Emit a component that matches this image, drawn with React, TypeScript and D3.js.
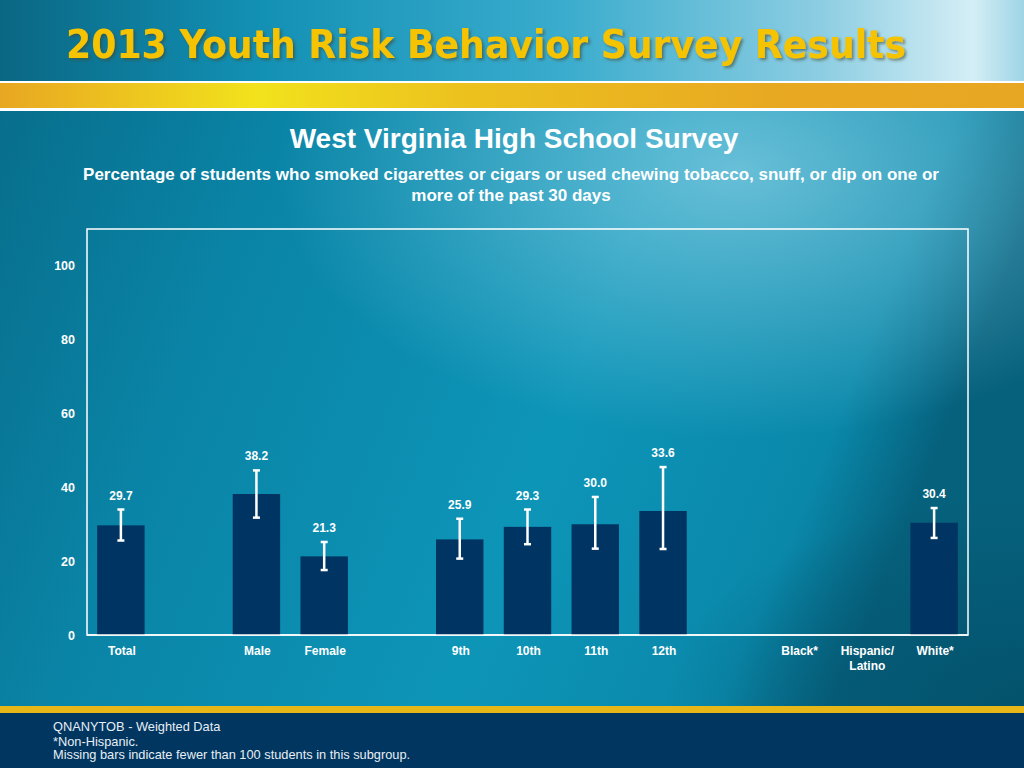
import { useEffect, useRef } from 'react';
import * as d3 from 'd3';

// slots in drawing order; "gap" entries are the empty spaces between groups
const slots = ["Total", "gap1", "Male", "Female", "gap2", "9th", "10th", "11th", "12th", "gap3", "Black*", "Hispanic/Latino", "White*"];
const categories = ["Total", "Male", "Female", "9th", "10th", "11th", "12th", "Black*", "Hispanic/Latino", "White*"];
const categoryLines = [["Total"], ["Male"], ["Female"], ["9th"], ["10th"], ["11th"], ["12th"], ["Black*"], ["Hispanic/", "Latino"], ["White*"]];
const values: (number | null)[] = [29.7, 38.2, 21.3, 25.9, 29.3, 30.0, 33.6, null, null, 30.4];
const lower: (number | null)[] = [25.6, 31.8, 17.6, 20.7, 24.6, 23.4, 23.3, null, null, 26.3];
const upper: (number | null)[] = [34.0, 44.6, 25.2, 31.5, 34.0, 37.4, 45.5, null, null, 34.4];
const yTicks = [0, 20, 40, 60, 80, 100];

const headerTitle = "2013 Youth Risk Behavior Survey Results";
const chartTitle = "West Virginia High School Survey";
const subtitleLines = [
  "Percentage of students who smoked cigarettes or cigars or used chewing tobacco, snuff, or dip on one or",
  "more of the past 30 days",
];
const footnotes = ["QNANYTOB - Weighted Data", "*Non-Hispanic.", "Missing bars indicate fewer than 100 students in this subgroup."];

const W = 1024;
const H = 768;
const font = "'Liberation Sans', Arial, sans-serif";

export default function App() {
  const svgRef = useRef<SVGSVGElement>(null);

  useEffect(() => {
    document.body.style.margin = "0";
    if (!svgRef.current) return;
    const svg = d3.select(svgRef.current);
    svg.selectAll("*").remove();

    const defs = svg.append("defs");

    // header background
    const hg = defs.append("linearGradient").attr("id", "hdr").attr("x1", 0).attr("x2", 1).attr("y1", 0).attr("y2", 0);
    [["0%", "#0a6783"], ["25%", "#1290b4"], ["55%", "#3aaccd"], ["80%", "#8ccde2"], ["95%", "#d4eef5"], ["100%", "#9fd5e6"]]
      .forEach(([o, c]) => hg.append("stop").attr("offset", o).attr("stop-color", c));

    // gold stripe
    const gg = defs.append("linearGradient").attr("id", "gold").attr("x1", 0).attr("x2", 1).attr("y1", 0).attr("y2", 0);
    [["0%", "#e8a722"], ["25%", "#f2e21c"], ["45%", "#ecc21e"], ["75%", "#e8a922"], ["100%", "#e8a722"]]
      .forEach(([o, c]) => gg.append("stop").attr("offset", o).attr("stop-color", c));

    // body background
    const bg = defs.append("linearGradient").attr("id", "body").attr("x1", 0).attr("x2", 1).attr("y1", 0).attr("y2", 0.3);
    [["0%", "#086b89"], ["30%", "#0a84a6"], ["65%", "#0d95b8"], ["90%", "#0a88aa"], ["100%", "#06617d"]]
      .forEach(([o, c]) => bg.append("stop").attr("offset", o).attr("stop-color", c));

    const glow = defs.append("radialGradient").attr("id", "glow").attr("cx", 0.72).attr("cy", 0.1).attr("r", 0.45);
    glow.append("stop").attr("offset", "0%").attr("stop-color", "#8fd2e6").attr("stop-opacity", 0.7);
    glow.append("stop").attr("offset", "100%").attr("stop-color", "#8fd2e6").attr("stop-opacity", 0);

    const dark = defs.append("radialGradient").attr("id", "dark").attr("cx", 1).attr("cy", 1).attr("r", 0.35);
    dark.append("stop").attr("offset", "0%").attr("stop-color", "#034f68").attr("stop-opacity", 0.8);
    dark.append("stop").attr("offset", "100%").attr("stop-color", "#034f68").attr("stop-opacity", 0);

    const shadow = defs.append("filter").attr("id", "shadow").attr("x", "-5%").attr("y", "-20%").attr("width", "110%").attr("height", "150%");
    shadow.append("feDropShadow").attr("dx", 2).attr("dy", 2).attr("stdDeviation", 1.5).attr("flood-color", "#3a4a30").attr("flood-opacity", 0.6);

    // backgrounds
    svg.append("rect").attr("x", 0).attr("y", 0).attr("width", W).attr("height", H).attr("fill", "url(#body)");
    svg.append("rect").attr("x", 0).attr("y", 111).attr("width", W).attr("height", 595).attr("fill", "url(#glow)");
    svg.append("rect").attr("x", 0).attr("y", 111).attr("width", W).attr("height", 595).attr("fill", "url(#dark)");
    svg.append("rect").attr("x", 0).attr("y", 0).attr("width", W).attr("height", 81).attr("fill", "url(#hdr)");
    svg.append("rect").attr("x", 0).attr("y", 81).attr("width", W).attr("height", 30).attr("fill", "#ffffff");
    svg.append("rect").attr("x", 0).attr("y", 83).attr("width", W).attr("height", 25).attr("fill", "url(#gold)");

    // footer
    svg.append("rect").attr("x", 0).attr("y", 706).attr("width", W).attr("height", 7).attr("fill", "#e6b716");
    svg.append("rect").attr("x", 0).attr("y", 713).attr("width", W).attr("height", 55).attr("fill", "#003660");

    svg.append("text")
      .attr("x", 66).attr("y", 58)
      .attr("textLength", 840).attr("lengthAdjust", "spacingAndGlyphs")
      .attr("font-family", "'Liberation Sans Narrow', 'DejaVu Sans Condensed', 'DejaVu Sans', sans-serif")
      .attr("font-weight", "bold").attr("font-size", 39)
      .attr("fill", "#f6c300").attr("filter", "url(#shadow)")
      .text(headerTitle);

    // titles
    svg.append("text")
      .attr("x", 514).attr("y", 148).attr("text-anchor", "middle")
      .attr("font-family", font).attr("font-weight", "bold").attr("font-size", 28).attr("fill", "#ffffff")
      .text(chartTitle);
    subtitleLines.forEach((line, i) => {
      svg.append("text")
        .attr("x", 511).attr("y", 180 + i * 21).attr("text-anchor", "middle")
        .attr("font-family", font).attr("font-weight", "bold").attr("font-size", 17).attr("fill", "#ffffff")
        .text(line);
    });

    // scales
    const x = d3.scaleBand<string>().domain(slots).range([87, 968]).padding(0);
    const y = d3.scaleLinear().domain([0, 110]).range([635, 229]);
    const barW = x.bandwidth() * 0.7;

    // frame
    svg.append("rect")
      .attr("x", 87).attr("y", 229).attr("width", 968 - 87).attr("height", 635 - 229)
      .attr("fill", "none").attr("stroke", "#ffffff").attr("stroke-width", 1.5);

    // y axis labels
    const yAxis = svg.append("g").attr("transform", "translate(87,0)")
      .call(d3.axisLeft(y).tickValues(yTicks).tickSize(0).tickPadding(12));
    yAxis.select(".domain").remove();
    yAxis.selectAll("text")
      .attr("font-family", font).attr("font-weight", "bold").attr("font-size", 12.5).attr("fill", "#ffffff");

    const g = svg.append("g");
    categories.forEach((cat, i) => {
      const cx = (x(cat) ?? 0) + x.bandwidth() / 2;
      const v = values[i];
      if (v != null) {
        g.append("rect")
          .attr("x", cx - barW / 2).attr("y", y(v))
          .attr("width", barW).attr("height", y(0) - y(v))
          .attr("fill", "#003462");
      }
      const lo = lower[i];
      const hi = upper[i];
      if (lo != null && hi != null) {
        g.append("line").attr("x1", cx).attr("x2", cx).attr("y1", y(lo)).attr("y2", y(hi))
          .attr("stroke", "#ffffff").attr("stroke-width", 2.5);
        [lo, hi].forEach(e => {
          g.append("line").attr("x1", cx - 3.5).attr("x2", cx + 3.5).attr("y1", y(e)).attr("y2", y(e))
            .attr("stroke", "#ffffff").attr("stroke-width", 2.5);
        });
      }
      if (v != null) {
        g.append("text")
          .attr("x", cx).attr("y", y(hi ?? v) - 10).attr("text-anchor", "middle")
          .attr("font-family", font).attr("font-weight", "bold").attr("font-size", 12).attr("fill", "#ffffff")
          .text(v.toFixed(1));
      }
      categoryLines[i].forEach((line, j) => {
        g.append("text")
          .attr("x", cx + 1).attr("y", 655 + j * 15).attr("text-anchor", "middle")
          .attr("font-family", font).attr("font-weight", "bold").attr("font-size", 12).attr("fill", "#ffffff")
          .text(line);
      });
    });

    // redraw baseline over bars
    svg.append("line").attr("x1", 87).attr("x2", 968).attr("y1", 635).attr("y2", 635)
      .attr("stroke", "#ffffff").attr("stroke-width", 1.5);

    footnotes.forEach((line, i) => {
      svg.append("text")
        .attr("x", 53).attr("y", i === 0 ? 731 : 732 + i * 13.5)
        .attr("font-family", font).attr("font-size", 12.8).attr("fill", "#e8eef4")
        .text(line);
    });
  }, []);

  return <svg ref={svgRef} width={W} height={H} style={{ display: "block" }} />;
}
